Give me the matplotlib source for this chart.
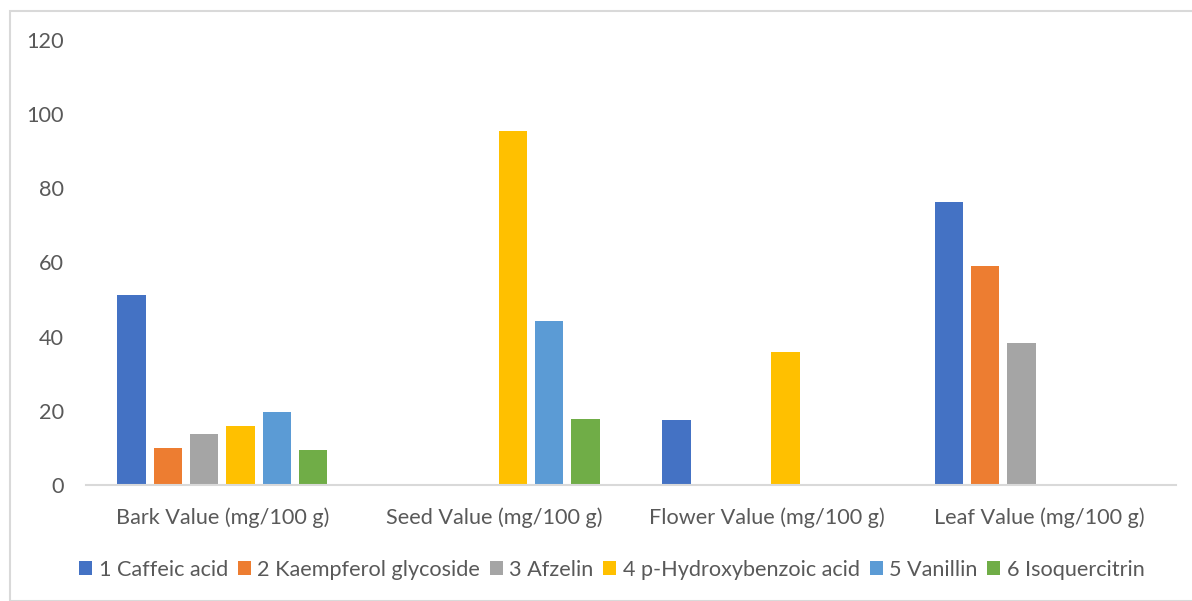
import numpy as np
import matplotlib
matplotlib.use('Agg')
import matplotlib.pyplot as plt
from matplotlib.patches import Rectangle

plt.rcParams['font.family'] = ['Lato', 'DejaVu Sans']

# 数据
categories = ['Bark Value (mg/100 g)', 'Seed Value (mg/100 g)',
              'Flower Value (mg/100 g)', 'Leaf Value (mg/100 g)']
series_names = ['1 Caffeic acid', '2 Kaempferol glycoside', '3 Afzelin',
                '4 p-Hydroxybenzoic acid', '5 Vanillin', '6 Isoquercitrin']
caffeic = [51.2, 0, 17.5, 76.3]
kaempferol = [9.9, 0, 0, 59.1]
afzelin = [13.7, 0, 0, 38.4]
hydroxybenzoic = [15.8, 95.5, 35.9, 0]
vanillin = [19.7, 44.2, 0, 0]
isoquercitrin = [9.4, 17.8, 0, 0]
yticks = [0, 20, 40, 60, 80, 100, 120]

colors = ['#4472C4', '#ED7D31', '#A5A5A5', '#FFC000', '#5B9BD5', '#70AD47']
series = [caffeic, kaempferol, afzelin, hydroxybenzoic, vanillin, isoquercitrin]

fig = plt.figure(figsize=(11.92, 6.01), dpi=100)
ax = fig.add_axes([86 / 1192, 1 - 485 / 601, (1176 - 86) / 1192, (485 - 40) / 601])

# 图表外框
fig.patches.append(Rectangle((10 / 1192, 0), 1.2, 1 - 11 / 601, transform=fig.transFigure,
                             fill=False, edgecolor='#d9d9d9', linewidth=1.5))

x = np.arange(len(categories))
pitch = 0.1333
width = 0.104
for i, (vals, name, c) in enumerate(zip(series, series_names, colors)):
    ax.bar(x + (i - 2.5) * pitch, vals, width=width, color=c, label=name)

ax.set_xlim(-0.5, len(categories) - 0.5)
ax.set_ylim(0, 120)
ax.set_yticks(yticks)
ax.set_xticks(x)
ax.set_xticklabels(categories)
ax.tick_params(axis='both', length=0, labelsize=15.6, colors='#595959')
ax.tick_params(axis='x', pad=16)
ax.tick_params(axis='y', pad=16)

for s in ['top', 'right', 'left']:
    ax.spines[s].set_visible(False)
ax.spines['bottom'].set_color('#d9d9d9')
ax.spines['bottom'].set_linewidth(1.5)

leg = fig.legend(loc='center', bbox_to_anchor=(612 / 1192, 1 - 570 / 601), ncol=6,
                 frameon=False, fontsize=15.6, handlelength=0.6, handleheight=0.6,
                 handletextpad=0.3, columnspacing=0.45)
for t in leg.get_texts():
    t.set_color('#595959')

plt.savefig('out.png', dpi=100)
